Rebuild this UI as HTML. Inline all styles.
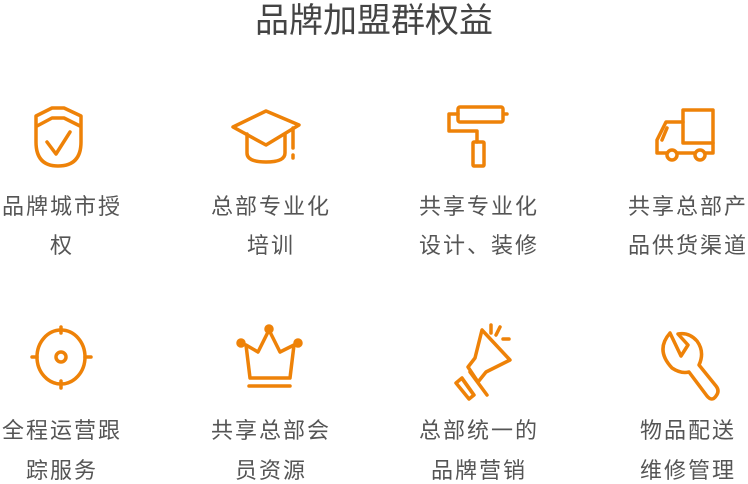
<!DOCTYPE html>
<html><head><meta charset="utf-8"><style>
body{margin:0;width:748px;height:482px;background:#fff;overflow:hidden;position:relative;font-family:"Liberation Sans","Noto Sans CJK SC",sans-serif}
.t{position:absolute;left:0;width:748px;top:1px;text-align:center;font-size:34px;color:#444;line-height:40px}
.l{position:absolute;width:180px;text-align:center;font-size:22px;color:#555;line-height:26px;letter-spacing:2px}
svg{position:absolute;left:0;top:0}
</style></head><body>
<div class="t">品牌加盟群权益</div>
<svg width="748" height="482" fill="none" stroke="#ee8208" stroke-width="3.5" stroke-linecap="round" stroke-linejoin="round">
<g><path d="M36,116 L52,108 L64,108 L81,116 L81,142 Q81,166 58,166 Q36,166 36,142 Z"/><path d="M37,126 L52,118 L64,118 L80,126"/><path d="M47,142 L56,154 L70,132"/></g>
<g><path d="M233,127 L266,111 L299,125 L266,145 Z"/><path d="M247,134 L247,153 Q247,162 266,162 Q285,162 285,153 L285,134"/><path d="M293,128 L293,148"/><path d="M293,155 L293,158"/></g>
<g><rect x="458" y="107" width="45" height="15" rx="2"/><path d="M504,114 L507,114"/><path d="M458,114 L449,114 L449,131 L477,131 L477,142"/><rect x="473" y="142" width="11" height="24" rx="1"/></g>
<g><rect x="683" y="110" width="30" height="33"/><path d="M683,122 L666,122 L657,140 L657,153 L713,153 L713,143"/><path d="M662,140 L667,128"/><circle cx="672" cy="155" r="5" fill="#fff"/><circle cx="700" cy="155" r="5" fill="#fff"/></g>
<g><ellipse cx="61" cy="357" rx="24" ry="27"/><circle cx="61" cy="357" r="5"/><path d="M61,327 L61,333 M61,381 L61,388 M32,357 L37,357 M85,357 L91,357"/></g>
<g><path d="M246,345 L250,378 L290,378 L294,345 L280,352 L269,330 L258,352 Z"/><circle cx="241" cy="343" r="3" fill="#ee8208"/><circle cx="269" cy="329" r="3" fill="#ee8208"/><circle cx="298" cy="343" r="3" fill="#ee8208"/><path d="M249,386 L290,386"/></g>
<g><path d="M482,330 L475,358 L468,367 L478,382 L486,372 L510,360 Z"/><path d="M470,372 L487,395 M463,380 L473,394 M456,383 L462,378 L474,395 L469,399 Z"/><path d="M491,325 L491,333 M500,327 L496,335 M503,339 L509,339"/></g>
<g><path d="M670,333 Q655,350 672,368 Q681,374 689,372 L707,396 Q712,402 716,396 Q720,391 716,386 L699,365 Q705,352 697,341 Q689,332 678,334 L688,345 L681,356 Z"/></g>
</svg>
<div class="l" style="left:-28px;top:194px">品牌城市授</div>
<div class="l" style="left:-28px;top:233px">权</div>
<div class="l" style="left:181px;top:194px">总部专业化</div>
<div class="l" style="left:181px;top:233px">培训</div>
<div class="l" style="left:389px;top:194px">共享专业化</div>
<div class="l" style="left:389px;top:233px">设计、装修</div>
<div class="l" style="left:598px;top:194px">共享总部产</div>
<div class="l" style="left:598px;top:233px">品供货渠道</div>
<div class="l" style="left:-28px;top:418px">全程运营跟</div>
<div class="l" style="left:-28px;top:458px">踪服务</div>
<div class="l" style="left:181px;top:418px">共享总部会</div>
<div class="l" style="left:181px;top:458px">员资源</div>
<div class="l" style="left:389px;top:418px">总部统一的</div>
<div class="l" style="left:389px;top:458px">品牌营销</div>
<div class="l" style="left:598px;top:418px">物品配送</div>
<div class="l" style="left:598px;top:458px">维修管理</div>
</body></html>
